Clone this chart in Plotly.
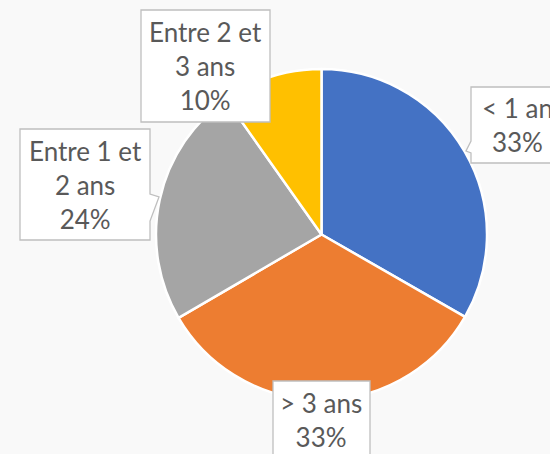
import plotly.graph_objects as go

# ---- data ----
categories = ["< 1 an", "> 3 ans", "Entre 1 et 2 ans", "Entre 2 et 3 ans"]
values = [33.3, 33.3, 23.6, 9.8]
colors = ["#4472C4", "#ED7D31", "#A5A5A5", "#FFC000"]
label_lines = [["&lt; 1 an"], ["&gt; 3 ans"], ["Entre 1 et", "2 ans"], ["Entre 2 et", "3 ans"]]

W, H = 550, 454
total = sum(values)
pcts = [round(v / total * 100) for v in values]


def px(x):
    return x / W


def py(y):
    return 1 - y / H


fig = go.Figure()
fig.add_trace(go.Pie(
    labels=categories,
    values=values,
    sort=False,
    direction="clockwise",
    rotation=0,
    marker=dict(colors=colors, line=dict(color="white", width=2.5)),
    textinfo="none",
    hoverinfo="label+percent",
    showlegend=False,
    domain=dict(x=[px(156), px(487)], y=[py(400), py(69)]),
))

# callout boxes (pixel geometry), order matches categories
boxes = [
    dict(x0=471, x1=565, y0=87, y1=163, ptr=[(471, 141), (466, 151), (471, 153)], side="left",
         cx=517, cy=125.5),
    dict(x0=273, x1=370, y0=381, y1=462, ptr=None, side=None, cx=321, cy=420),
    dict(x0=20, x1=150, y0=129, y1=240, ptr=[(150, 194), (159, 197), (150, 221)], side="right",
         cx=85, cy=185),
    dict(x0=141, x1=270, y0=10, y1=122, ptr=None, side=None, cx=205.5, cy=66),
]


def path_from(points):
    s = "M " + " L ".join(f"{px(x):.5f},{py(y):.5f}" for x, y in points) + " Z"
    return s


shapes = []
for b in boxes:
    x0, x1, y0, y1 = b["x0"], b["x1"], b["y0"], b["y1"]
    if b["side"] == "right":
        (ax, ay), tip, (bx, by) = b["ptr"]
        pts = [(x0, y0), (x1, y0), (x1, ay), tip, (x1, by), (x1, y1), (x0, y1)]
    elif b["side"] == "left":
        (ax, ay), tip, (bx, by) = b["ptr"]
        pts = [(x0, y0), (x1, y0), (x1, y1), (x0, y1), (x0, by), tip, (x0, ay)]
    else:
        pts = [(x0, y0), (x1, y0), (x1, y1), (x0, y1)]
    shapes.append(dict(type="path", xref="paper", yref="paper", path=path_from(pts),
                       fillcolor="white", line=dict(color="#BFBFBF", width=1.3), layer="above"))

annotations = []
for b, lines, p in zip(boxes, label_lines, pcts):
    text = "<br>".join(lines + [f"{p}%"])
    annotations.append(dict(
        x=px(b["cx"]), y=py(b["cy"]), xref="paper", yref="paper",
        xanchor="center", yanchor="middle", showarrow=False, align="center",
        text=text, font=dict(family="Lato", size=26, color="#595959"),
    ))

fig.update_layout(
    width=W, height=H,
    margin=dict(l=0, r=0, t=0, b=0),
    paper_bgcolor="#F9F9F9",
    plot_bgcolor="#F9F9F9",
    shapes=shapes,
    annotations=annotations,
)

fig.write_html(
    "out.html",
    config={"displayModeBar": False},
    post_script="document.body.style.margin='0';document.body.style.background='#F9F9F9';",
)
